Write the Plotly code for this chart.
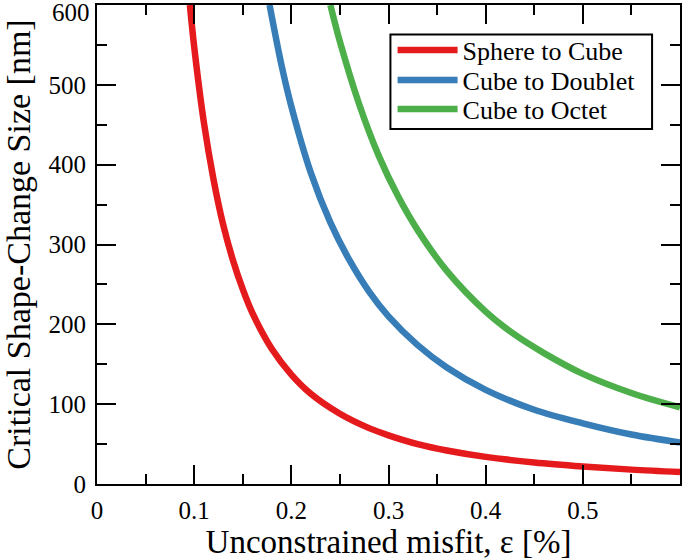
import plotly.graph_objects as go

# Values
eps_sphere = [0.0956, 0.10, 0.11, 0.12, 0.13, 0.14, 0.15, 0.16, 0.18, 0.20, 0.22, 0.25,
              0.28, 0.30, 0.33, 0.36, 0.40, 0.45, 0.50, 0.55, 0.60]
size_sphere = [600, 548, 453, 381, 324, 280, 244, 214, 169, 137, 113, 88,
               70, 61, 50, 42, 34, 27, 22, 18, 15]

eps_doublet = [0.1776, 0.19, 0.20, 0.22, 0.24, 0.26, 0.28, 0.30, 0.33, 0.36, 0.40,
               0.45, 0.50, 0.55, 0.60]
size_doublet = [600, 524, 473, 390, 328, 280, 241, 210, 174, 146, 118,
                93, 76, 62, 52]

eps_octet = [0.2402, 0.25, 0.27, 0.29, 0.31, 0.33, 0.36, 0.40, 0.43, 0.46, 0.50, 0.55, 0.60]
size_octet = [600, 554, 475, 411, 360, 318, 267, 216, 187, 164, 138, 114, 96]

series_names = ["Sphere to Cube", "Cube to Doublet", "Cube to Octet"]
series_colors = ["#e41a1c", "#377eb8", "#4daf4a"]

x_ticks = [0, 0.1, 0.2, 0.3, 0.4, 0.5]
y_ticks = [0, 100, 200, 300, 400, 500]
y_top_label = 600

FONT = "Liberation Serif"

fig = go.Figure()
legend_ids = ["legend", "legend2", "legend3"]
for xs, ys, name, color, lg in zip([eps_sphere, eps_doublet, eps_octet],
                                   [size_sphere, size_doublet, size_octet],
                                   series_names, series_colors, legend_ids):
    fig.add_trace(go.Scatter(x=xs, y=ys, mode="lines", name=name, legend=lg,
                             line=dict(color=color, width=6.5, shape="spline"),
                             cliponaxis=True))

axis_common = dict(
    showline=True, linewidth=2, linecolor="black", mirror="allticks",
    ticks="inside", ticklen=19, tickwidth=2, tickcolor="black",
    showgrid=False, zeroline=False,
    tickfont=dict(family=FONT, size=25, color="black"),
)

fig.update_xaxes(
    range=[0, 0.6], tickvals=x_ticks,
    minor=dict(dtick=0.05, tick0=0, ticks="inside", ticklen=10, tickwidth=2,
               tickcolor="black", showgrid=False),
    title=dict(text="Unconstrained misfit, ε [%]", font=dict(family=FONT, size=33, color="black"),
               standoff=10),
    ticklabelstandoff=3,
    **axis_common,
)
fig.update_yaxes(
    range=[0, 600], tickvals=y_ticks,
    minor=dict(dtick=50, tick0=0, ticks="inside", ticklen=10, tickwidth=2,
               tickcolor="black", showgrid=False),
    title=dict(text="Critical Shape-Change Size [nm]", font=dict(family=FONT, size=34, color="black"),
               standoff=12),
    ticklabelstandoff=4,
    **axis_common,
)

fig.add_annotation(x=0, xref="paper", y=y_top_label, yref="y", text=str(y_top_label),
                   showarrow=False, xanchor="right", yanchor="top", xshift=-5, yshift=8,
                   font=dict(family=FONT, size=25, color="black"))

# legend frame
fig.add_shape(type="rect", xref="paper", yref="paper",
              x0=0.5033, x1=0.9521, y0=0.7413, y1=0.9384,
              line=dict(color="black", width=2), fillcolor="white", layer="above")

legend_style = dict(xanchor="left", yanchor="middle", bgcolor="rgba(0,0,0,0)",
                    borderwidth=0, font=dict(family=FONT, size=26, color="black"),
                    itemwidth=60)
fig.update_layout(
    width=685, height=560,
    margin=dict(l=97, r=3, t=3, b=75),
    paper_bgcolor="white", plot_bgcolor="white",
    font=dict(family=FONT, color="black"),
    legend=dict(x=0.507, y=0.9057, **legend_style),
    legend2=dict(x=0.507, y=0.8434, **legend_style),
    legend3=dict(x=0.507, y=0.7826, **legend_style),
    showlegend=True,
)

fig.write_html("out.html", config={"displayModeBar": False},
               post_script="document.body.style.margin='0';")
